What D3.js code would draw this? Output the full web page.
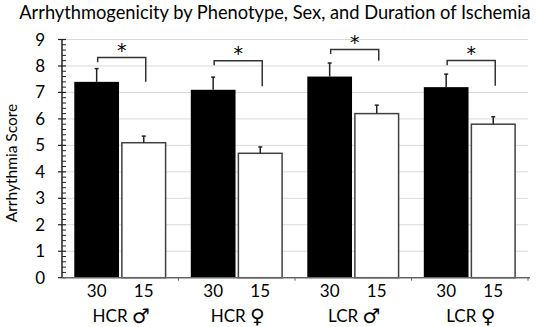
<!DOCTYPE html>
<html><head><meta charset="utf-8">
<script src="https://cdn.jsdelivr.net/npm/d3@7"></script>
<style>body{margin:0;background:#fff}svg{display:block}text{font-family:Lato,"Open Sans",sans-serif;fill:#000}</style>
</head><body><svg id="c" width="536" height="327"></svg>
<script>
const groups = ["HCR ♂", "HCR ♀", "LCR ♂", "LCR ♀"];
const durations = ["30", "15"];
const means30 = [7.4, 7.1, 7.6, 7.2];
const means15 = [5.1, 4.7, 6.2, 5.8];
const err30 = [0.5, 0.48, 0.51, 0.49];
const err15 = [0.25, 0.24, 0.32, 0.28];
const bracketTop = [8.32, 8.2, 8.62, 8.21];
const bracketLeftEnd = [8.14, 8.03, 8.45, 8.03];
const bracketRightEnd = [7.4, 7.23, 8.2, 7.25];
const yTicks = [0,1,2,3,4,5,6,7,8,9];
const title = "Arrhythmogenicity by Phenotype, Sex, and Duration of Ischemia";
const yLabel = "Arrhythmia Score";

const svg = d3.select("#c");
const L = 62, R = 528, T = 39.5, B = 277.7;
const x = d3.scaleBand().domain(groups).range([L, R]);
const xi = d3.scaleBand().domain(durations).range([12.3, x.bandwidth() - 12.4]).paddingInner(0.05);
const y = d3.scaleLinear().domain([0, 9]).range([B, T]);

// gridlines
svg.append("g").selectAll("line").data(yTicks.filter(d => d > 0)).join("line")
  .attr("x1", L).attr("x2", R).attr("y1", d => y(d)).attr("y2", d => y(d))
  .attr("stroke", "#d9d9d9").attr("stroke-width", 1);

// bars
const rows = [];
groups.forEach((g, i) => {
  rows.push({g, d: "30", v: means30[i], e: err30[i]});
  rows.push({g, d: "15", v: means15[i], e: err15[i]});
});
svg.append("g").selectAll("rect").data(rows).join("rect")
  .attr("x", r => x(r.g) + xi(r.d) + (r.d === "15" ? 0.5 : 0))
  .attr("width", r => xi.bandwidth() - (r.d === "15" ? 1 : 0))
  .attr("y", r => y(r.v)).attr("height", r => B - y(r.v))
  .attr("fill", r => r.d === "30" ? "#000" : "#fff")
  .attr("stroke", r => r.d === "30" ? "none" : "#404040").attr("stroke-width", 1.5);

// error bars
const eg = svg.append("g").attr("stroke", "#222").attr("stroke-width", 1.5);
rows.forEach(r => {
  const cx = x(r.g) + xi(r.d) + xi.bandwidth() / 2;
  eg.append("line").attr("x1", cx).attr("x2", cx).attr("y1", y(r.v)).attr("y2", y(r.v + r.e));
  eg.append("line").attr("x1", cx - 2).attr("x2", cx + 2).attr("y1", y(r.v + r.e)).attr("y2", y(r.v + r.e));
});

// brackets and stars
groups.forEach((g, i) => {
  const x1 = x(g) + xi("30") + xi.bandwidth() / 2 + 1;
  const x2 = x(g) + xi("15") + xi.bandwidth() / 2 + 2;
  svg.append("path")
    .attr("d", `M${x1},${y(bracketLeftEnd[i])}V${y(bracketTop[i])}H${x2}V${y(bracketRightEnd[i])}`)
    .attr("fill", "none").attr("stroke", "#333").attr("stroke-width", 1.5);
  svg.append("text").attr("x", (x1 + x2) / 2).attr("y", y(bracketTop[i]) - 0.5)
    .attr("text-anchor", "middle").attr("font-size", 19)
    .style("font-family", "'DejaVu Sans'").style("fill", "#000").text("*");
});

// y axis
const ya = svg.append("g");
ya.append("line").attr("x1", L).attr("x2", L).attr("y1", T).attr("y2", B).attr("stroke", "#222").attr("stroke-width", 1.5);
const minor = d3.range(0, 9.001, 0.2).filter(v => Math.abs(v - Math.round(v)) > 0.01);
ya.selectAll("line.mi").data(minor).join("line").attr("class", "mi")
  .attr("x1", L).attr("x2", L + 4).attr("y1", d => y(d)).attr("y2", d => y(d))
  .attr("stroke", "#222").attr("stroke-width", 1);
ya.selectAll("line.ma").data(yTicks).join("line").attr("class", "ma")
  .attr("x1", L - 4).attr("x2", L + 4).attr("y1", d => y(d)).attr("y2", d => y(d))
  .attr("stroke", "#222").attr("stroke-width", 1.2);
ya.selectAll("text").data(yTicks).join("text")
  .attr("x", 45).attr("y", d => y(d) + 6).attr("text-anchor", "end")
  .attr("font-size", 17).text(d => d);

// x axis
svg.append("line").attr("x1", L).attr("x2", R + 2).attr("y1", B).attr("y2", B).attr("stroke", "#666").attr("stroke-width", 1.5);
svg.append("g").selectAll("line").data(groups.slice(1).concat([null])).join("line")
  .attr("x1", (d, i) => d ? x(d) : R).attr("x2", (d, i) => d ? x(d) : R)
  .attr("y1", B).attr("y2", B + 3).attr("stroke", "#666").attr("stroke-width", 1);

svg.append("g").selectAll("text").data(rows).join("text")
  .attr("x", r => x(r.g) + xi(r.d) + xi.bandwidth() / 2)
  .attr("y", 297).attr("text-anchor", "middle").attr("font-size", 17).text(r => r.d);
const cl = svg.append("g").selectAll("text").data(groups).join("text")
  .attr("x", g => x(g) + x.bandwidth() / 2 + 1)
  .attr("y", 322).attr("text-anchor", "middle").attr("font-size", 17);
cl.append("tspan").text(g => g.split(" ")[0] + " ");
cl.append("tspan").style("font-family", "'DejaVu Sans'").attr("font-size", 20).attr("dy", 1).text(g => g.split(" ")[1]);

// y label
svg.append("text").attr("transform", `translate(17,163) rotate(-90)`)
  .attr("text-anchor", "middle").attr("font-size", 15.5).text(yLabel);

// title
const tt = svg.append("text").attr("x", 275).attr("y", 19).attr("text-anchor", "middle").attr("font-size", 17).text(title);
const w = tt.node().getComputedTextLength();
tt.attr("font-size", 17 * 512 / w);
</script></body></html>
